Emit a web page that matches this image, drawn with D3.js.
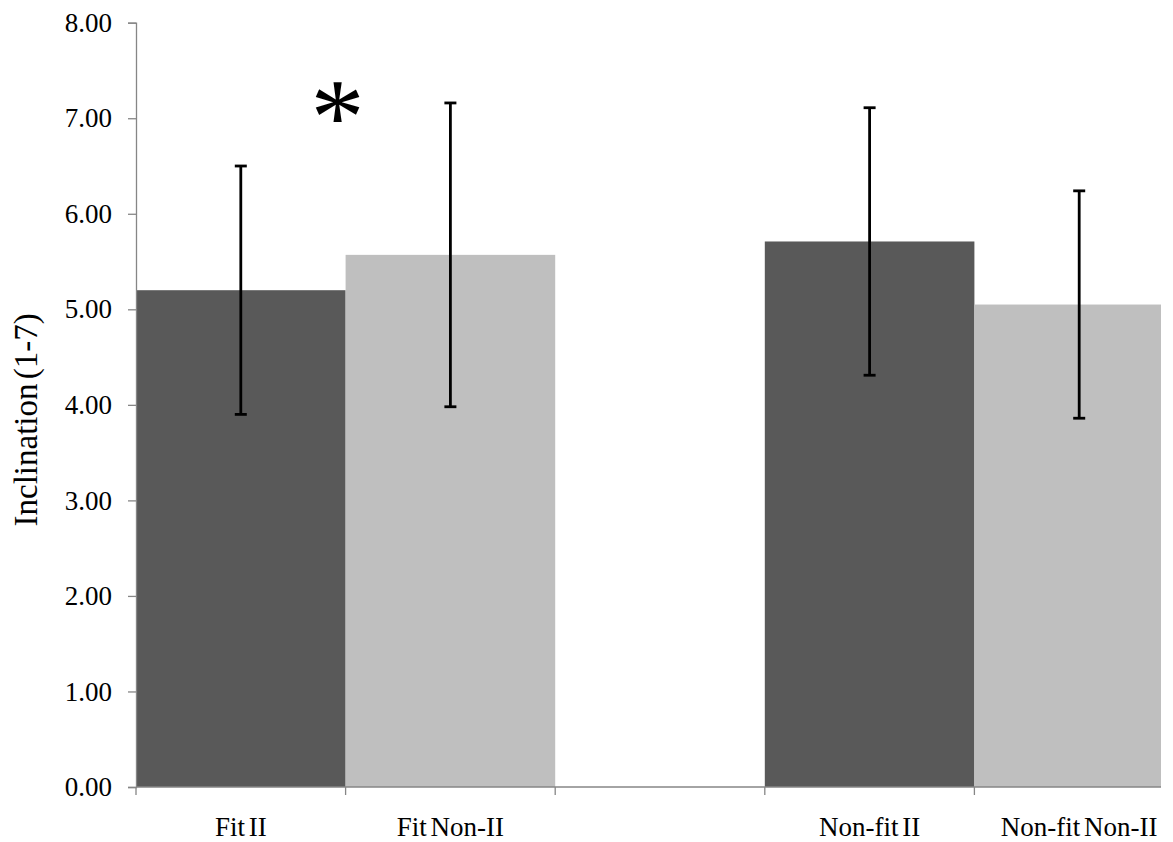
<!DOCTYPE html>
<html>
<head>
<meta charset="utf-8">
<script src="https://cdn.jsdelivr.net/npm/d3@7/dist/d3.min.js"></script>
<style>
  html, body { margin: 0; padding: 0; background: #fff; }
  svg { display: block; }
  text { font-family: "Liberation Serif", "Times New Roman", serif; fill: #000; }
</style>
</head>
<body>
<svg id="chart" width="1173" height="842"></svg>
<script>
// Category slots (one empty slot separates the two groups)
const slots = ["Fit II", "Fit Non-II", "", "Non-fit II", "Non-fit Non-II"];
const categories = ["Fit II", "Fit Non-II", "Non-fit II", "Non-fit Non-II"];
const means = [5.20, 5.57, 5.71, 5.05];
const errors = [1.30, 1.59, 1.40, 1.19];
const barGroup = ["II", "Non-II", "II", "Non-II"];
const yTicks = [0, 1, 2, 3, 4, 5, 6, 7, 8];
const yTitle = "Inclination (1-7)";
const significance = "*";

const colors = { "II": "#595959", "Non-II": "#bfbfbf" };
const axisColor = "#868686";

const svg = d3.select("#chart");
const plotLeft = 136, plotTop = 22.7, plotBottom = 787, visibleRight = 1161;
const step = 209.6;

const x = d3.scaleBand()
  .domain(slots)
  .range([plotLeft, plotLeft + step * slots.length])
  .paddingInner(0).paddingOuter(0);

const y = d3.scaleLinear().domain([0, 8]).range([plotBottom, plotTop]);

svg.append("defs").append("clipPath").attr("id", "plotClip")
  .append("rect")
  .attr("x", plotLeft).attr("y", 0)
  .attr("width", visibleRight - plotLeft).attr("height", plotBottom + 1);

const plot = svg.append("g").attr("clip-path", "url(#plotClip)");

const data = categories.map((c, i) => ({ c, m: means[i], e: errors[i], g: barGroup[i] }));

// Bars
plot.selectAll("rect.bar").data(data).enter().append("rect")
  .attr("class", "bar")
  .attr("x", d => x(d.c))
  .attr("width", x.bandwidth())
  .attr("y", d => y(d.m))
  .attr("height", d => y(0) - y(d.m))
  .attr("fill", d => colors[d.g]);

// Y axis
const yAxis = svg.append("g")
  .attr("transform", `translate(${plotLeft},0)`)
  .call(d3.axisLeft(y).tickValues(yTicks).tickFormat(d3.format(".2f")).tickSize(8).tickPadding(16));
yAxis.select(".domain").attr("stroke", axisColor).attr("stroke-width", 1.3);
yAxis.selectAll(".tick line").attr("stroke", axisColor).attr("stroke-width", 1.3);
yAxis.selectAll(".tick text")
  .attr("font-family", "Liberation Serif, Times New Roman, serif")
  .attr("font-size", 27).attr("fill", "#000");

// X axis line and boundary ticks
svg.append("line")
  .attr("x1", plotLeft).attr("x2", visibleRight)
  .attr("y1", y(0)).attr("y2", y(0))
  .attr("stroke", axisColor).attr("stroke-width", 1.3);

const boundaries = slots.map(s => x(s)).filter(v => v <= visibleRight);
svg.selectAll("line.xtick").data(boundaries).enter().append("line")
  .attr("class", "xtick")
  .attr("x1", d => d).attr("x2", d => d)
  .attr("y1", y(0)).attr("y2", y(0) + 8)
  .attr("stroke", axisColor).attr("stroke-width", 1.3);

// Category labels
svg.selectAll("text.cat").data(categories).enter().append("text")
  .attr("class", "cat")
  .attr("x", d => x(d) + x.bandwidth() / 2)
  .attr("y", 836)
  .attr("text-anchor", "middle")
  .attr("font-size", 27)
  .attr("word-spacing", -3)
  .text(d => d);

// Error bars
const cap = 6;
const eb = svg.append("g");
data.forEach(d => {
  const cx = x(d.c) + x.bandwidth() / 2;
  eb.append("line")
    .attr("x1", cx).attr("x2", cx)
    .attr("y1", y(d.m + d.e)).attr("y2", y(d.m - d.e))
    .attr("stroke", "#000").attr("stroke-width", 2.8);
  [d.m + d.e, d.m - d.e].forEach(v => {
    eb.append("line")
      .attr("x1", cx - cap).attr("x2", cx + cap)
      .attr("y1", y(v)).attr("y2", y(v))
      .attr("stroke", "#000").attr("stroke-width", 2.8);
  });
});

// Significance marker between the two "Fit" bars
svg.append("text")
  .attr("x", x("Fit Non-II") - 8)
  .attr("y", y(7.0) + 35)
  .attr("text-anchor", "middle")
  .attr("font-size", 108)
  .text(significance);

// Y axis title
svg.append("text")
  .attr("transform", `translate(37,${y(4) + 15}) rotate(-90)`)
  .attr("text-anchor", "middle")
  .attr("font-size", 33)
  .attr("word-spacing", -4)
  .text(yTitle);
</script>
</body>
</html>
